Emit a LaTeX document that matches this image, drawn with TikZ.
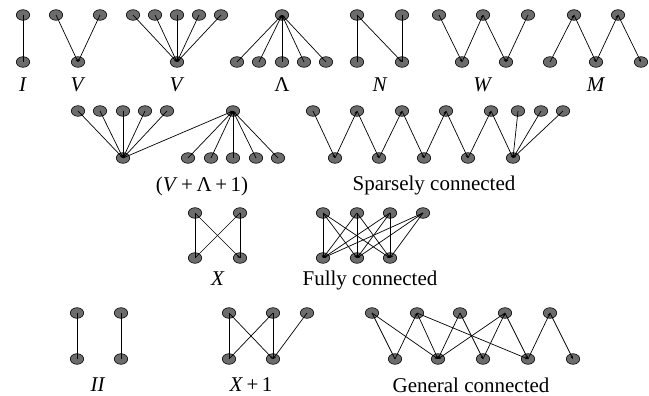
\documentclass[tikz,border=0pt]{standalone}
\usepackage{fontspec}
\setmainfont{Liberation Serif}
\usetikzlibrary{shapes.geometric,arrows.meta}
\definecolor{nodegray}{RGB}{108,108,108}
\begin{document}
\begin{tikzpicture}[x=1pt,y=-1pt,
  vtx/.style={ellipse,draw=black,fill=nodegray,line width=0.6pt,minimum width=13.4pt,minimum height=10.6pt,inner sep=0pt},
  lnk/.style={line width=0.7pt},
  tip/.style={lnk,-{Stealth[length=3.2pt,width=2.8pt]}},
  lbl/.style={anchor=base,font=\fontsize{21}{24}\selectfont,inner sep=0pt}]
\useasboundingbox (0,0) rectangle (649,396);
% ---------- row 1 ----------
\node[vtx] (a1) at (23,15) {}; \node[vtx] (a2) at (23,62) {};
\node[vtx] (b1) at (56,15) {}; \node[vtx] (b2) at (100,15) {}; \node[vtx] (b0) at (78,62) {};
\foreach \i/\x in {1/133,2/155,3/177,4/199,5/221} \node[vtx] (c\i) at (\x,15) {};
\node[vtx] (c0) at (177,62) {};
\node[vtx] (d0) at (282,15) {};
\foreach \i/\x in {1/237,2/259,3/282,4/304,5/326} \node[vtx] (d\i) at (\x,62) {};
\node[vtx] (e1) at (357,15) {}; \node[vtx] (e2) at (402,15) {};
\node[vtx] (e3) at (357,62) {}; \node[vtx] (e4) at (402,62) {};
\node[vtx] (f1) at (439,15) {}; \node[vtx] (f2) at (483,15) {}; \node[vtx] (f3) at (528,15) {};
\node[vtx] (f4) at (462,62) {}; \node[vtx] (f5) at (506,62) {};
\node[vtx] (g1) at (574,15) {}; \node[vtx] (g2) at (618,15) {};
\node[vtx] (g3) at (550,62) {}; \node[vtx] (g4) at (596,62) {}; \node[vtx] (g5) at (641,62) {};
\draw[lnk] (a1.center) -- (a2.center);
\draw[tip] (b1.center) -- (b0.center);
\draw[tip] (b2.center) -- (b0.center);
\foreach \i in {1,...,5} \draw[tip] (c\i.center) -- (c0.center);
\foreach \i in {1,...,5} \draw[tip] (d\i.center) -- (d0.center);
\draw[lnk] (e1.center) -- (e3.center);
\draw[tip] (e1.center) -- (e4.center);
\draw[lnk] (e2.center) -- (e4.center);
\draw[tip] (f1.center) -- (f4.center);
\draw[tip] (f4.center) -- (f2.center);
\draw[tip] (f2.center) -- (f5.center);
\draw[tip] (f3.center) -- (f5.center);
\draw[tip] (g3.center) -- (g1.center);
\draw[tip] (g1.center) -- (g4.center);
\draw[tip] (g4.center) -- (g2.center);
\draw[tip] (g2.center) -- (g5.center);
\node[lbl] (la) at (23,92) {\textit{I}};
\node[lbl] (lb) at (78,92) {\textit{V}};
\node[lbl] (lc) at (177,92) {\textit{V}};
\node[lbl] (ld) at (282,92) {Λ};
\node[lbl] (le) at (380,92) {\textit{N}};
\node[lbl] (lf) at (483,92) {\textit{W}};
\node[lbl] (lg) at (596,92) {\textit{M}};
% ---------- row 2 ----------
\foreach \i/\x in {1/78,2/100,3/123,4/145,5/167} \node[vtx] (h\i) at (\x,111) {};
\node[vtx] (h0) at (123,158) {};
\node[vtx] (k0) at (233,111) {};
\foreach \i/\x in {1/188,2/211,3/233,4/256,5/278} \node[vtx] (k\i) at (\x,158) {};
\foreach \i in {1,...,5} \draw[tip] (h\i.center) -- (h0.center);
\foreach \i in {1,...,5} \draw[tip] (k\i.center) -- (k0.center);
\draw[tip] (h0.center) -- (k0.center);
\node[lbl] (lh) at (202,191) {(\textit{V}\,+\,Λ\,+\,1)};
\foreach \i/\x in {1/313,2/357,3/402,4/446,5/491,6/518,7/541,8/563} \node[vtx] (s\i) at (\x,111) {};
\foreach \i/\x in {1/335,2/379,3/424,4/468,5/513} \node[vtx] (t\i) at (\x,158) {};
\draw[tip] (s1.center) -- (t1.center);
\draw[tip] (t1.center) -- (s2.center);
\draw[tip] (s2.center) -- (t2.center);
\draw[tip] (t2.center) -- (s3.center);
\draw[tip] (s3.center) -- (t3.center);
\draw[tip] (t3.center) -- (s4.center);
\draw[tip] (s4.center) -- (t4.center);
\draw[tip] (t4.center) -- (s5.center);
\draw[tip] (s5.center) -- (t5.center);
\draw[tip] (s6.center) -- (t5.center);
\draw[tip] (s7.center) -- (t5.center);
\draw[tip] (s8.center) -- (t5.center);
\node[lbl] (ls) at (434,190) {Sparsely connected};
% ---------- row 3 ----------
\node[vtx] (x1) at (195,213) {}; \node[vtx] (x2) at (240,213) {};
\node[vtx] (x3) at (195,258) {}; \node[vtx] (x4) at (240,258) {};
\draw[lnk] (x1.center) -- (x3.center);
\draw[tip] (x1.center) -- (x4.center);
\draw[lnk] (x3.center) -- (x2.center);
\draw[lnk] (x2.center) -- (x4.center);
\node[lbl] (lx) at (218,285) {\textit{X}};
\foreach \i/\x in {1/323,2/357,3/390,4/423} \node[vtx] (u\i) at (\x,213) {};
\foreach \i/\x in {1/323,2/357,3/390} \node[vtx] (v\i) at (\x,258) {};
\foreach \i in {1,...,4} \foreach \j in {1,2,3} \draw[tip] (u\i.center) -- (v\j.center);
\node[lbl] (lu) at (370,285) {Fully connected};
% ---------- row 4 ----------
\node[vtx] (p1) at (77,313) {}; \node[vtx] (p2) at (121,313) {};
\node[vtx] (p3) at (77,359) {}; \node[vtx] (p4) at (121,359) {};
\draw[lnk] (p1.center) -- (p3.center);
\draw[lnk] (p2.center) -- (p4.center);
\node[lbl] (lp) at (98,391) {\textit{II}};
\node[vtx] (q1) at (229,313) {}; \node[vtx] (q2) at (273,313) {}; \node[vtx] (q3) at (307,313) {};
\node[vtx] (q4) at (229,359) {}; \node[vtx] (q5) at (273,359) {};
\draw[lnk] (q1.center) -- (q4.center);
\draw[tip] (q1.center) -- (q5.center);
\draw[lnk] (q4.center) -- (q2.center);
\draw[lnk] (q2.center) -- (q5.center);
\draw[tip] (q3.center) -- (q5.center);
\node[lbl] (lq) at (251,391) {\textit{X}\,+\,1};
\foreach \i/\x in {1/372,2/417,3/460,4/505,5/550} \node[vtx] (r\i) at (\x,313) {};
\foreach \i/\x in {1/395,2/438,3/483,4/528,5/573} \node[vtx] (w\i) at (\x,359) {};
\draw[lnk] (r1.center) -- (w1.center);
\draw[tip] (r1.center) -- (w2.center);
\draw[tip] (w1.center) -- (r2.center);
\draw[tip] (r2.center) -- (w2.center);
\draw[tip] (r2.center) -- (w4.center);
\draw[tip] (r3.center) -- (w2.center);
\draw[tip] (r3.center) -- (w3.center);
\draw[tip] (r4.center) -- (w2.center);
\draw[tip] (w3.center) -- (r4.center);
\draw[tip] (r4.center) -- (w4.center);
\draw[tip] (w4.center) -- (r5.center);
\draw[tip] (r5.center) -- (w5.center);
\node[lbl] (lr) at (471,392) {General connected};
\end{tikzpicture}
\end{document}
